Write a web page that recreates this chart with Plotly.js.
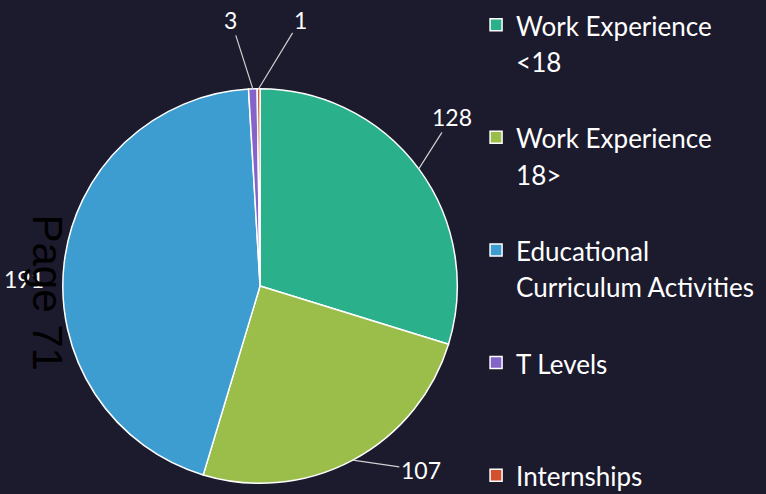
<!DOCTYPE html>
<html>
<head>
<meta charset="utf-8">
<script src="https://cdn.plot.ly/plotly-3.0.1.min.js"></script>
<style>html,body{margin:0;padding:0;background:#1c1a2d;}#chart{width:766px;height:494px;}</style>
</head>
<body>
<div id="chart"></div>
<script>
// Data
const categories = ["Work Experience<br><18", "Work Experience<br>18>", "Educational<br>Curriculum Activities", "T Levels", "Internships"];
const values = [128, 107, 191, 3, 1];
const colors = ["#2bb08c", "#9bbe4a", "#3e9dd0", "#8564c9", "#d2502e"];
const watermark = "Page 71";

// Label placement (pixel offsets from slice edge midpoint) - styling only
const labelOffsets = [[33, -52], [68, 10], [-40, 16], [-22, -69], [42, -69]];
const labelLines = [true, true, false, true, true];

// Layout geometry
const W = 766, H = 494;
const dom = {x: [0.082, 0.597], y: [0.02, 0.822]};
const cx = (dom.x[0] + dom.x[1]) / 2 * W;
const cyPaper = (dom.y[0] + dom.y[1]) / 2;
const R = Math.min((dom.x[1] - dom.x[0]) * W, (dom.y[1] - dom.y[0]) * H) / 2;

// Legend labels: every entry but the last padded to 3 lines so entries are evenly spaced
const legendLabels = categories.map((c, i) => {
  let lines = c.split("<br>");
  if (i < categories.length - 1) while (lines.length < 3) lines.push(" ");
  return lines.map(l => "<span style='font-size:26px'>" + l + "</span>").join("<br>");
});

const total = values.reduce((a, b) => a + b, 0);
const annotations = [];
let cum = 0;
values.forEach((v, i) => {
  const mid = (cum + v / 2) / total * 2 * Math.PI;
  cum += v;
  const ex = Math.sin(mid), ey = Math.cos(mid);
  annotations.push({
    x: (cx + R * ex) / W, y: cyPaper + R * ey / H,
    xref: "paper", yref: "paper",
    ax: labelOffsets[i][0], ay: labelOffsets[i][1],
    text: String(v),
    showarrow: true, arrowhead: 0, arrowwidth: labelLines[i] ? 1.2 : 0.1,
    arrowcolor: labelLines[i] ? "#d0d0d0" : "rgba(0,0,0,0)", standoff: 0,
    font: {family: "Lato, sans-serif", size: 23, color: "#ffffff"}
  });
});
annotations.push({
  x: 22 / W, y: 1 - 292 / H, xref: "paper", yref: "paper", showarrow: false,
  text: watermark, textangle: 90,
  font: {family: "Liberation Sans, Arial, sans-serif", size: 42, color: "#000000"}
});

const trace = {
  type: "pie",
  labels: legendLabels,
  values: values,
  marker: {colors: colors, line: {color: "#ffffff", width: 1.5}},
  sort: false,
  direction: "clockwise",
  rotation: 0,
  textinfo: "none",
  hoverinfo: "value",
  domain: dom
};

const layout = {
  width: W, height: H,
  margin: {l: 0, r: 0, t: 0, b: 0},
  paper_bgcolor: "#1c1a2d",
  plot_bgcolor: "#1c1a2d",
  showlegend: true,
  legend: {
    x: 0.6215, y: 1, xanchor: "left", yanchor: "top",
    font: {family: "Lato, sans-serif", size: 28.1, color: "#ffffff"},
    bgcolor: "rgba(0,0,0,0)",
    valign: "top",
    itemwidth: 30
  },
  annotations: annotations
};

Plotly.newPlot("chart", [trace], layout, {displayModeBar: false, staticPlot: true});
</script>
</body>
</html>
